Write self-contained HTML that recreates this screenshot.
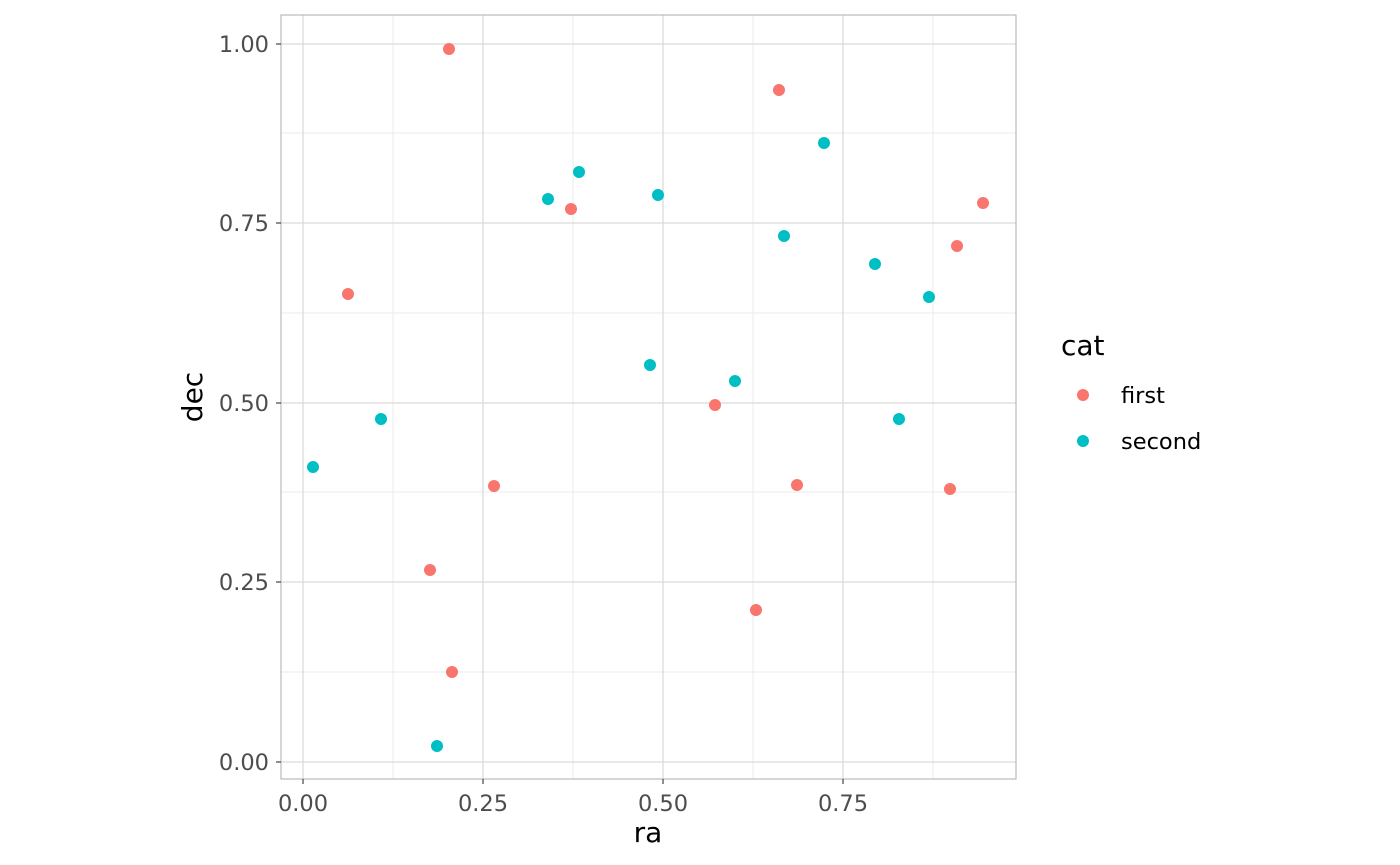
<!DOCTYPE html>
<html><head><meta charset="utf-8"><style>body{margin:0;background:#fff}svg{display:block}</style></head><body>
<svg width="1400" height="865" xmlns="http://www.w3.org/2000/svg" font-family="DejaVu Sans, sans-serif">
<rect width="1400" height="865" fill="#fff"/>
<g stroke="#ebebeb" stroke-width="1">
<line x1="393" y1="15" x2="393" y2="779"/><line x1="573" y1="15" x2="573" y2="779"/><line x1="753" y1="15" x2="753" y2="779"/><line x1="933" y1="15" x2="933" y2="779"/>
<line x1="281" y1="133" x2="1016" y2="133"/><line x1="281" y1="313" x2="1016" y2="313"/><line x1="281" y1="492" x2="1016" y2="492"/><line x1="281" y1="672" x2="1016" y2="672"/>
</g>
<g stroke="#d9d9d9" stroke-width="1.2">
<line x1="303" y1="15" x2="303" y2="779"/><line x1="483" y1="15" x2="483" y2="779"/><line x1="663" y1="15" x2="663" y2="779"/><line x1="843" y1="15" x2="843" y2="779"/>
<line x1="281" y1="44" x2="1016" y2="44"/><line x1="281" y1="223" x2="1016" y2="223"/><line x1="281" y1="403" x2="1016" y2="403"/><line x1="281" y1="582" x2="1016" y2="582"/><line x1="281" y1="762" x2="1016" y2="762"/>
</g>
<rect x="281" y="15" width="735" height="764" fill="none" stroke="#b3b3b3" stroke-width="1.1"/>
<g stroke="#333" stroke-width="1.1">
<line x1="303" y1="779" x2="303" y2="784"/><line x1="483" y1="779" x2="483" y2="784"/><line x1="663" y1="779" x2="663" y2="784"/><line x1="843" y1="779" x2="843" y2="784"/>
<line x1="276" y1="44" x2="281" y2="44"/><line x1="276" y1="223" x2="281" y2="223"/><line x1="276" y1="403" x2="281" y2="403"/><line x1="276" y1="582" x2="281" y2="582"/><line x1="276" y1="762" x2="281" y2="762"/>
</g>
<g fill="#4d4d4d" font-size="22.5" text-anchor="middle">
<text x="303" y="811">0.00</text><text x="483" y="811">0.25</text><text x="663" y="811">0.50</text><text x="843" y="811">0.75</text>
</g>
<g fill="#4d4d4d" font-size="22.5" text-anchor="end">
<text x="269" y="52">1.00</text><text x="269" y="231">0.75</text><text x="269" y="411">0.50</text><text x="269" y="590">0.25</text><text x="269" y="770">0.00</text>
</g>
<text x="648" y="842" font-size="28" text-anchor="middle" fill="#000">ra</text>
<text transform="translate(202,397) rotate(-90)" font-size="28" text-anchor="middle" fill="#000">dec</text>
<g fill="#F8766D">
<circle cx="449" cy="49" r="6"/><circle cx="779" cy="90" r="6"/><circle cx="983" cy="203" r="6"/><circle cx="571" cy="209" r="6"/><circle cx="957" cy="246" r="6"/><circle cx="348" cy="294" r="6"/><circle cx="715" cy="405" r="6"/><circle cx="494" cy="486" r="6"/><circle cx="797" cy="485" r="6"/><circle cx="950" cy="489" r="6"/><circle cx="430" cy="570" r="6"/><circle cx="756" cy="610" r="6"/><circle cx="452" cy="672" r="6"/>
<circle cx="1083" cy="395" r="6"/>
</g>
<g fill="#00BFC4">
<circle cx="824" cy="143" r="6"/><circle cx="579" cy="172" r="6"/><circle cx="548" cy="199" r="6"/><circle cx="658" cy="195" r="6"/><circle cx="784" cy="236" r="6"/><circle cx="875" cy="264" r="6"/><circle cx="929" cy="297" r="6"/><circle cx="650" cy="365" r="6"/><circle cx="735" cy="381" r="6"/><circle cx="381" cy="419" r="6"/><circle cx="899" cy="419" r="6"/><circle cx="313" cy="467" r="6"/><circle cx="437" cy="746" r="6"/>
<circle cx="1083" cy="441" r="6"/>
</g>
<text x="1061" y="355" font-size="28" fill="#000">cat</text>
<text x="1121" y="403" font-size="22.5" fill="#000">first</text>
<text x="1121" y="449" font-size="22.5" fill="#000">second</text>
</svg>
</body></html>
